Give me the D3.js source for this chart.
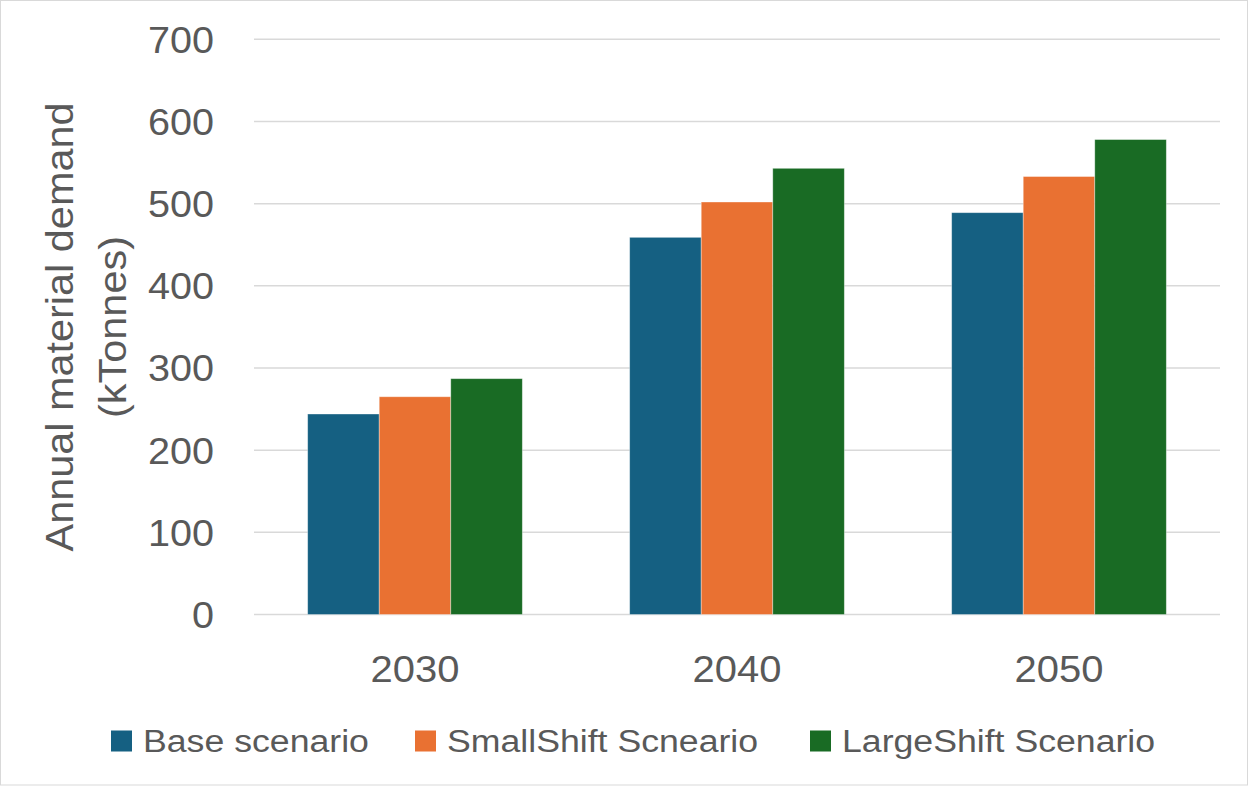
<!DOCTYPE html>
<html>
<head>
<meta charset="utf-8">
<script src="https://cdn.jsdelivr.net/npm/d3@7"></script>
<style>
  html, body { margin: 0; padding: 0; background: #fff; }
  svg { display: block; }
  text { font-family: "Liberation Sans", Arial, sans-serif; fill: #595959; }
</style>
</head>
<body>
<svg id="chart" width="1249" height="786"></svg>
<script>
// Annual material demand by scenario (kTonnes)
const years = ["2030", "2040", "2050"];
const seriesNames = ["Base scenario", "SmallShift Scneario", "LargeShift Scenario"];
const baseValues = [244, 459, 489];
const smallShiftValues = [265, 502, 533];
const largeShiftValues = [287, 543, 578];
const yTicks = [0, 100, 200, 300, 400, 500, 600, 700];
const seriesColors = ["#156082", "#E97132", "#196B24"];

const series = [baseValues, smallShiftValues, largeShiftValues];

const svg = d3.select("#chart");
const W = 1249, H = 786;
const plot = { left: 254, right: 1220, top: 39.3, bottom: 614.5 };

// Stretch text horizontally a bit to give the wider letterforms of the chart's typeface
function widen(sel, k) {
  sel.each(function () {
    const w = this.getComputedTextLength();
    this.setAttribute("textLength", w * k);
    this.setAttribute("lengthAdjust", "spacingAndGlyphs");
  });
}

// outer chart border
svg.append("rect")
  .attr("x", 0.5).attr("y", 0.5)
  .attr("width", W - 2).attr("height", H - 1.5)
  .attr("fill", "#fff").attr("stroke", "#d9d9d9").attr("stroke-width", 1);

const x = d3.scaleBand().domain(years).range([plot.left, plot.right])
  .paddingInner(1 / 3).paddingOuter(1 / 6);
const xSub = d3.scaleBand().domain(d3.range(series.length)).range([0, x.bandwidth()]);
const y = d3.scaleLinear().domain([0, 700]).range([plot.bottom, plot.top]);

// horizontal gridlines
svg.append("g").selectAll("line").data(yTicks).join("line")
  .attr("x1", plot.left).attr("x2", plot.right)
  .attr("y1", d => y(d)).attr("y2", d => y(d))
  .attr("stroke", "#d9d9d9").attr("stroke-width", 1.5);

// y axis labels
const yAxis = svg.append("g")
  .attr("transform", `translate(${plot.left - 40},0)`)
  .call(d3.axisLeft(y).tickValues(yTicks).tickSize(0).tickPadding(0));
yAxis.select(".domain").remove();
yAxis.selectAll("text")
  .attr("font-family", "'Liberation Sans', Arial, sans-serif")
  .attr("font-size", 36).attr("fill", "#595959")
  .attr("dy", "0.36em").attr("x", 0)
  .call(widen, 1.1);

// bars
const groups = svg.append("g").selectAll("g").data(years).join("g")
  .attr("transform", d => `translate(${x(d)},0)`);
groups.selectAll("rect")
  .data((yr, i) => series.map((s, si) => ({ si, v: s[i] })))
  .join("rect")
  .attr("x", d => xSub(d.si))
  .attr("width", xSub.bandwidth())
  .attr("y", d => y(d.v))
  .attr("height", d => y(0) - y(d.v))
  .attr("fill", d => seriesColors[d.si])
  .attr("stroke", "rgba(255,255,255,0.45)").attr("stroke-width", 0.8);

// x axis labels
const xAxis = svg.append("g")
  .attr("transform", `translate(0,${plot.bottom})`)
  .call(d3.axisBottom(x).tickSize(0).tickPadding(0));
xAxis.select(".domain").remove();
xAxis.selectAll("text")
  .attr("font-family", "'Liberation Sans', Arial, sans-serif")
  .attr("font-size", 37).attr("fill", "#595959")
  .attr("y", 67).attr("dy", 0)
  .call(widen, 1.08);

// y axis title
const title = svg.append("text")
  .attr("transform", "translate(0,327) rotate(-90)")
  .attr("text-anchor", "middle")
  .attr("font-size", 38);
title.append("tspan").attr("x", 0).attr("y", 73).text("Annual material demand");
title.append("tspan").attr("x", 0).attr("y", 126).text("(kTonnes)");
title.selectAll("tspan").call(widen, 1.09);

// legend
const legendX = [111, 415, 810];
const legend = svg.append("g").selectAll("g").data(seriesNames).join("g")
  .attr("transform", (d, i) => `translate(${legendX[i]},730.5)`);
legend.append("rect")
  .attr("width", 21).attr("height", 21)
  .attr("fill", (d, i) => seriesColors[i]);
legend.append("text")
  .attr("x", 32).attr("y", 21)
  .attr("font-size", 31)
  .text(d => d)
  .call(widen, 1.15);
</script>
</body>
</html>
